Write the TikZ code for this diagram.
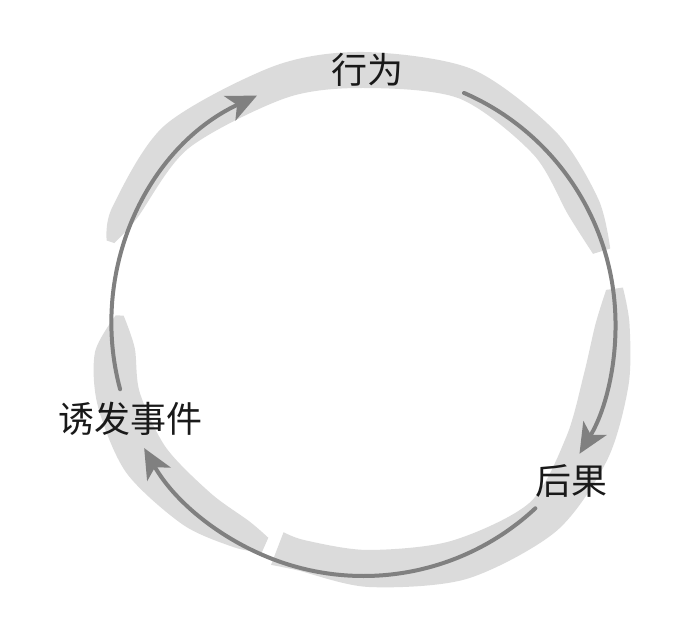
\documentclass[tikz,border=0pt]{standalone}
\usepackage{fontspec}
\newfontfamily\cjk{Noto Sans CJK SC}
\usetikzlibrary{arrows.meta}

\begin{document}
\begin{tikzpicture}[x=1pt, y=1pt,
  brush/.style={fill=black!14},
  flow/.style={draw=black!50, line width=4pt, line cap=round},
  arr/.style={flow, -{Stealth[length=30pt, width=27pt, inset=8pt]}},
  lbl/.style={inner sep=0pt, text=black!90, font=\cjk\fontsize{36}{40}\selectfont}
]
\useasboundingbox (-363.5,-305) rectangle (327.5,324);
\coordinate (o) at (0,0);

\fill[brush] plot[smooth] coordinates {(162:270) (155:277) (135:281) (109:273) (90:272) (67:277) (45:272) (28:266) (17:258)}
  -- plot[smooth] coordinates {(17:240) (28:232) (45:240) (67:245) (90:236) (109:239) (135:248) (155:250) (162:262)} -- cycle;
\fill[brush] plot[smooth] coordinates {(8:262) (0:266) (-13:272) (-29:279) (-47:283) (-68:275) (-89:263) (-105:255) (-111:258)}
  -- plot[smooth] coordinates {(-111:223) (-105:224) (-89:226) (-68:234) (-47:244) (-29:232) (-13:226) (0:232) (8:245)} -- cycle;
\fill[brush] plot[smooth] coordinates {(178:248) (186:270) (197:278) (212:280) (228:270) (240:258) (246:250)}
  -- plot[smooth] coordinates {(246:234) (240:228) (228:228) (212:233) (197:234) (186:230) (178:240)} -- cycle;

\node[lbl] (behavior) at (4.5,254) {行为};
\node[lbl] (result) at (207.5,-157) {后果};
\node[lbl] (trigger) at (-232.5,-95) {诱发事件};

\draw[arr] (o) ++(195:252) arc[start angle=195, end angle=115, radius=252];
\draw[arr] (o) ++(66.5:252) arc[start angle=66.5, end angle=-31, radius=252];
\draw[arr] (o) ++(-47:252) arc[start angle=-47, end angle=-150.5, radius=252];
\end{tikzpicture}
\end{document}
